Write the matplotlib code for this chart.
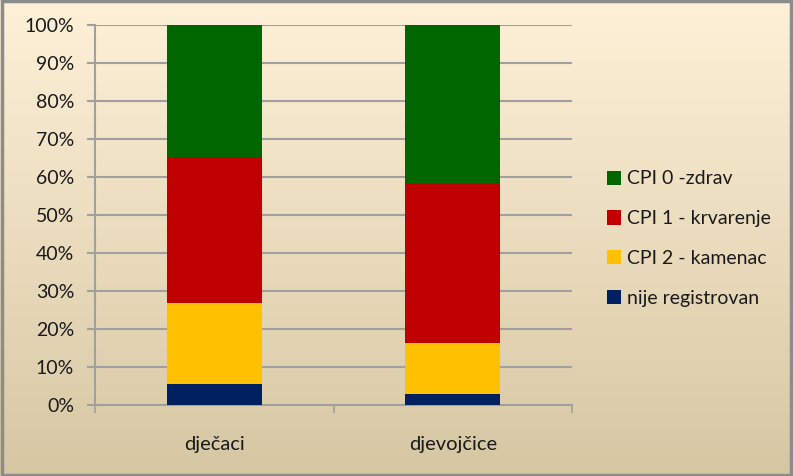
import matplotlib
matplotlib.use("Agg")
import matplotlib.pyplot as plt
import numpy as np
from matplotlib.patches import Rectangle

categories = ["dječaci", "djevojčice"]
series_names = ["nije registrovan", "CPI 2 - kamenac", "CPI 1 - krvarenje", "CPI 0 -zdrav"]
nije = [5.4, 2.9]
cpi2 = [21.4, 13.3]
cpi1 = [38.5, 42.0]
cpi0 = [34.7, 41.8]
colors = ["#002060", "#FFC000", "#C00000", "#006600"]
yticks = [0, 10, 20, 30, 40, 50, 60, 70, 80, 90, 100]

plt.rcParams['font.family'] = ['Lato', 'DejaVu Sans']

fig = plt.figure(figsize=(7.93, 4.76), dpi=100)

# gradient background
bg = fig.add_axes([0, 0, 1, 1], zorder=-10)
grad = np.linspace(0, 1, 256).reshape(-1, 1)
top = np.array([255, 241, 216]) / 255
bot = np.array([214, 199, 163]) / 255
img = top[None, None, :] * (1 - grad[:, :, None]) + bot[None, None, :] * grad[:, :, None]
bg.imshow(img, aspect='auto', extent=[0, 1, 0, 1], origin='upper')
bg.set_xlim(0, 1); bg.set_ylim(0, 1)
bg.axis('off')
bg.add_patch(Rectangle((0.002, 0.003), 0.996, 0.994, fill=False, edgecolor='#8c8c8c', lw=2.5, transform=bg.transAxes))

W, H = 793, 476
ax = fig.add_axes([95 / W, 1 - 405 / H, (572 - 95) / W, (405 - 25) / H])
ax.patch.set_alpha(0)

series = [nije, cpi2, cpi1, cpi0]
x = np.arange(len(categories))
bottom = np.zeros(len(categories))
handles = []
for vals, name, c in zip(series, series_names, colors):
    b = ax.bar(x, vals, width=0.4, bottom=bottom, color=c, label=name, zorder=3)
    handles.append(b)
    bottom += np.array(vals)

ax.set_xlim(-0.5, 1.5)
ax.set_ylim(0, 100)
ax.set_yticks(yticks)
ax.set_yticklabels([f"{v}%" for v in yticks], fontsize=14, color='#1a1a1a')
ax.yaxis.grid(True, color='#a0a0a0', lw=1.5, zorder=0)
ax.tick_params(axis='y', length=6, width=1.5, color='#a0a0a0', pad=9)
ax.set_xticks([-0.5, 0.5, 1.5], minor=False)
ax.set_xticklabels([])
ax.set_xticks(x, minor=True)
ax.set_xticklabels(categories, minor=True, fontsize=14.5, color='#1a1a1a')
ax.tick_params(axis='x', which='major', length=6, width=1.2, color='#a0a0a0')
ax.tick_params(axis='x', which='minor', length=0, pad=22)
for s in ['top', 'right']:
    ax.spines[s].set_visible(False)
for s in ['left', 'bottom']:
    ax.spines[s].set_color('#a0a0a0')
    ax.spines[s].set_linewidth(1.5)

leg = fig.legend(handles[::-1], series_names[::-1], loc='upper left',
                 bbox_to_anchor=(589 / W, 1 - 153 / H), frameon=False,
                 fontsize=14, handlelength=0.75, handleheight=0.75,
                 labelspacing=1.17, handletextpad=0.3)
for t in leg.get_texts():
    t.set_color('#1a1a1a')

fig.savefig("out.png", dpi=100)
